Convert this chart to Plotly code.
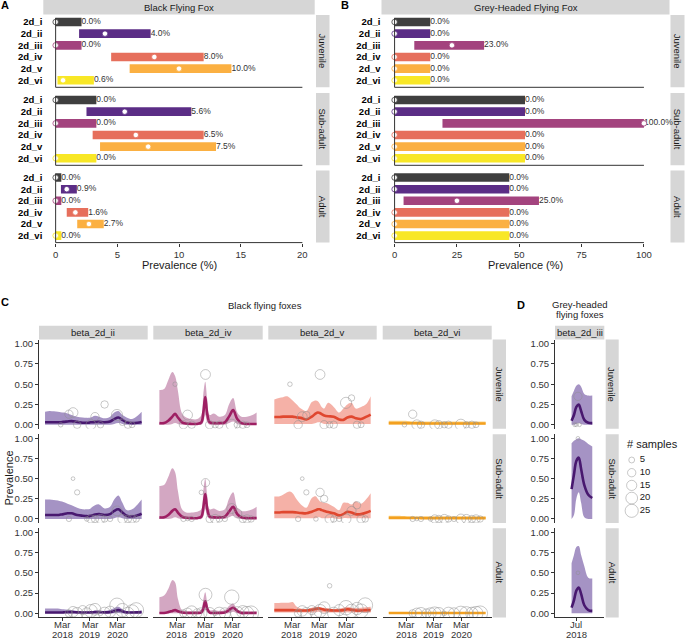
import plotly.graph_objects as go

W, H = 685, 640
FONT = "Liberation Sans, Arial, Helvetica, sans-serif"
TXT = "#1a1a1a"
AX = "#333333"
STRIP = "#d6d6d6"

# ---------------- Panel A / B data (prevalence %, credible interval) ----------------
GENOS = ["2d_i", "2d_ii", "2d_iii", "2d_iv", "2d_v", "2d_vi"]
AGES = ["Juvenile", "Sub-adult", "Adult"]
GENO_COLORS = ["#3f3f3f", "#5b2d86", "#a3437e", "#e66f5c", "#fbb042", "#f8e726"]

BFF_JUV_MEAN = [0.0, 4.0, 0.0, 8.0, 10.0, 0.6]
BFF_JUV_LO = [0.0, 1.9, 0.0, 4.5, 6.0, 0.15]
BFF_JUV_HI = [2.1, 7.7, 2.1, 12.0, 14.25, 3.1]
BFF_SUB_MEAN = [0.0, 5.6, 0.0, 6.5, 7.5, 0.0]
BFF_SUB_LO = [0.0, 2.5, 0.0, 3.0, 3.6, 0.0]
BFF_SUB_HI = [3.3, 11.0, 3.3, 12.0, 13.0, 3.3]
BFF_ADU_MEAN = [0.0, 0.9, 0.0, 1.6, 2.7, 0.0]
BFF_ADU_LO = [0.0, 0.43, 0.0, 0.9, 1.75, 0.0]
BFF_ADU_HI = [0.46, 1.72, 0.46, 2.64, 3.9, 0.46]

GHFF_JUV_MEAN = [0.0, 0.0, 23.0, 0.0, 0.0, 0.0]
GHFF_JUV_LO = [0.0, 0.0, 7.9, 0.0, 0.0, 0.0]
GHFF_JUV_HI = [14.3, 14.3, 35.9, 14.3, 14.3, 14.3]
GHFF_SUB_MEAN = [0.0, 0.0, 100.0, 0.0, 0.0, 0.0]
GHFF_SUB_LO = [0.0, 0.0, 19.2, 0.0, 0.0, 0.0]
GHFF_SUB_HI = [52.3, 52.3, 100.0, 52.3, 52.3, 52.3]
GHFF_ADU_MEAN = [0.0, 0.0, 25.0, 0.0, 0.0, 0.0]
GHFF_ADU_LO = [0.0, 0.0, 3.6, 0.0, 0.0, 0.0]
GHFF_ADU_HI = [46.0, 46.0, 57.9, 46.0, 46.0, 46.0]

A_TICKS = [0, 5, 10, 15, 20]
A_LIMITS = [0, 20]
B_TICKS = [0, 25, 50, 75, 100]
B_LIMITS = [0, 105]

# ---------------- Panel C data (time series, decimal years) ----------------
T = [2017.53, 2017.7, 2017.85, 2018.0, 2018.1, 2018.2, 2018.35, 2018.5, 2018.7, 2018.9,
     2019.05, 2019.12, 2019.19, 2019.26, 2019.35, 2019.5, 2019.7, 2019.9, 2020.05, 2020.2,
     2020.35, 2020.5, 2020.7, 2020.9, 2021.05]

II_JUV_MEAN = [0.03, 0.03, 0.03, 0.03, 0.03, 0.035, 0.04, 0.045, 0.035, 0.025, 0.025, 0.025, 0.03, 0.03, 0.035, 0.035, 0.03, 0.04, 0.07, 0.09, 0.06, 0.03, 0.02, 0.025, 0.035]
II_JUV_HI = [0.16, 0.17, 0.165, 0.16, 0.155, 0.15, 0.14, 0.12, 0.10, 0.09, 0.085, 0.085, 0.09, 0.10, 0.11, 0.10, 0.08, 0.10, 0.15, 0.17, 0.12, 0.09, 0.07, 0.11, 0.16]
II_JUV_LO = [0.0, 0.0, 0.0, 0.0, 0.0, 0.0, 0.0, 0.0, 0.0, 0.0, 0.0, 0.0, 0.0, 0.0, 0.0, 0.0, 0.0, 0.0, 0.01, 0.02, 0.01, 0.0, 0.0, 0.0, 0.0]
II_SUB_MEAN = [0.05, 0.05, 0.05, 0.05, 0.055, 0.06, 0.07, 0.07, 0.05, 0.04, 0.035, 0.035, 0.04, 0.045, 0.055, 0.06, 0.05, 0.06, 0.10, 0.12, 0.08, 0.04, 0.03, 0.045, 0.065]
II_SUB_HI = [0.24, 0.24, 0.235, 0.23, 0.22, 0.21, 0.19, 0.17, 0.14, 0.12, 0.12, 0.12, 0.13, 0.15, 0.17, 0.18, 0.13, 0.15, 0.24, 0.29, 0.20, 0.11, 0.12, 0.18, 0.24]
II_SUB_LO = [0.0, 0.0, 0.0, 0.0, 0.0, 0.0, 0.0, 0.0, 0.0, 0.0, 0.0, 0.0, 0.0, 0.0, 0.0, 0.0, 0.0, 0.0, 0.01, 0.02, 0.01, 0.0, 0.0, 0.0, 0.0]
II_ADU_MEAN = [0.01, 0.01, 0.01, 0.01, 0.01, 0.012, 0.015, 0.015, 0.012, 0.01, 0.01, 0.01, 0.012, 0.012, 0.015, 0.015, 0.012, 0.015, 0.03, 0.04, 0.025, 0.012, 0.01, 0.012, 0.015]
II_ADU_HI = [0.06, 0.06, 0.06, 0.06, 0.055, 0.05, 0.045, 0.04, 0.03, 0.025, 0.025, 0.025, 0.03, 0.03, 0.035, 0.035, 0.03, 0.04, 0.065, 0.08, 0.05, 0.03, 0.025, 0.03, 0.035]
II_ADU_LO = [0.0, 0.0, 0.0, 0.0, 0.0, 0.0, 0.0, 0.0, 0.0, 0.0, 0.0, 0.0, 0.0, 0.0, 0.0, 0.0, 0.0, 0.0, 0.0, 0.005, 0.0, 0.0, 0.0, 0.0, 0.0]

IV_JUV_MEAN = [0.02, 0.02, 0.05, 0.10, 0.135, 0.09, 0.03, 0.015, 0.01, 0.01, 0.03, 0.15, 0.34, 0.14, 0.03, 0.02, 0.02, 0.03, 0.10, 0.18, 0.07, 0.02, 0.01, 0.01, 0.01]
IV_JUV_HI = [0.43, 0.44, 0.55, 0.65, 0.60, 0.42, 0.14, 0.09, 0.07, 0.07, 0.12, 0.38, 0.53, 0.32, 0.12, 0.14, 0.10, 0.12, 0.25, 0.33, 0.15, 0.10, 0.10, 0.12, 0.15]
IV_JUV_LO = [0.0, 0.0, 0.0, 0.01, 0.02, 0.01, 0.0, 0.0, 0.0, 0.0, 0.0, 0.03, 0.12, 0.03, 0.0, 0.0, 0.0, 0.0, 0.02, 0.04, 0.01, 0.0, 0.0, 0.0, 0.0]
IV_SUB_MEAN = [0.02, 0.02, 0.05, 0.10, 0.12, 0.08, 0.03, 0.015, 0.01, 0.01, 0.03, 0.14, 0.31, 0.13, 0.03, 0.02, 0.02, 0.03, 0.09, 0.15, 0.06, 0.02, 0.01, 0.01, 0.01]
IV_SUB_HI = [0.41, 0.42, 0.52, 0.63, 0.58, 0.35, 0.12, 0.08, 0.08, 0.09, 0.12, 0.35, 0.50, 0.30, 0.12, 0.13, 0.10, 0.12, 0.25, 0.33, 0.14, 0.10, 0.10, 0.12, 0.15]
IV_SUB_LO = [0.0, 0.0, 0.0, 0.01, 0.02, 0.01, 0.0, 0.0, 0.0, 0.0, 0.0, 0.03, 0.12, 0.03, 0.0, 0.0, 0.0, 0.0, 0.02, 0.04, 0.01, 0.0, 0.0, 0.0, 0.0]
IV_ADU_MEAN = [0.005, 0.005, 0.015, 0.03, 0.04, 0.025, 0.01, 0.005, 0.005, 0.005, 0.01, 0.06, 0.15, 0.06, 0.01, 0.005, 0.005, 0.01, 0.04, 0.07, 0.03, 0.005, 0.005, 0.005, 0.005]
IV_ADU_HI = [0.20, 0.22, 0.30, 0.41, 0.38, 0.18, 0.04, 0.03, 0.03, 0.03, 0.05, 0.17, 0.26, 0.14, 0.04, 0.04, 0.03, 0.04, 0.09, 0.12, 0.05, 0.03, 0.025, 0.025, 0.03]
IV_ADU_LO = [0.0, 0.0, 0.0, 0.0, 0.0, 0.0, 0.0, 0.0, 0.0, 0.0, 0.0, 0.01, 0.05, 0.01, 0.0, 0.0, 0.0, 0.0, 0.0, 0.02, 0.0, 0.0, 0.0, 0.0, 0.0]

V_JUV_MEAN = [0.095, 0.095, 0.10, 0.10, 0.10, 0.10, 0.09, 0.085, 0.065, 0.10, 0.14, 0.15, 0.145, 0.13, 0.115, 0.105, 0.10, 0.065, 0.06, 0.09, 0.10, 0.08, 0.07, 0.10, 0.125]
V_JUV_HI = [0.31, 0.33, 0.34, 0.35, 0.33, 0.30, 0.25, 0.20, 0.17, 0.28, 0.30, 0.29, 0.26, 0.22, 0.20, 0.27, 0.22, 0.15, 0.20, 0.25, 0.27, 0.20, 0.22, 0.26, 0.35]
V_JUV_LO = [0.01, 0.01, 0.01, 0.01, 0.01, 0.01, 0.01, 0.01, 0.01, 0.01, 0.02, 0.03, 0.03, 0.02, 0.01, 0.01, 0.01, 0.01, 0.01, 0.01, 0.01, 0.01, 0.01, 0.01, 0.01]
V_SUB_MEAN = [0.08, 0.08, 0.085, 0.085, 0.085, 0.085, 0.08, 0.075, 0.07, 0.09, 0.11, 0.12, 0.12, 0.11, 0.10, 0.085, 0.07, 0.045, 0.06, 0.09, 0.08, 0.06, 0.06, 0.08, 0.10]
V_SUB_HI = [0.28, 0.28, 0.30, 0.33, 0.34, 0.32, 0.24, 0.18, 0.14, 0.26, 0.28, 0.25, 0.22, 0.21, 0.20, 0.19, 0.15, 0.11, 0.20, 0.20, 0.18, 0.22, 0.19, 0.25, 0.32]
V_SUB_LO = [0.01, 0.01, 0.01, 0.01, 0.01, 0.01, 0.01, 0.01, 0.01, 0.01, 0.01, 0.02, 0.02, 0.01, 0.01, 0.01, 0.01, 0.0, 0.01, 0.01, 0.01, 0.01, 0.01, 0.01, 0.01]
V_ADU_MEAN = [0.04, 0.04, 0.04, 0.04, 0.04, 0.04, 0.035, 0.035, 0.035, 0.045, 0.055, 0.06, 0.06, 0.055, 0.045, 0.04, 0.035, 0.035, 0.04, 0.05, 0.045, 0.035, 0.035, 0.04, 0.04]
V_ADU_HI = [0.127, 0.127, 0.13, 0.13, 0.135, 0.14, 0.08, 0.06, 0.05, 0.07, 0.08, 0.08, 0.075, 0.07, 0.07, 0.06, 0.055, 0.06, 0.07, 0.08, 0.07, 0.065, 0.07, 0.075, 0.08]
V_ADU_LO = [0.01, 0.01, 0.01, 0.01, 0.01, 0.01, 0.01, 0.01, 0.01, 0.01, 0.015, 0.02, 0.02, 0.015, 0.01, 0.01, 0.01, 0.01, 0.01, 0.015, 0.01, 0.01, 0.01, 0.01, 0.01]

VI_JUV_MEAN = [0.02, 0.02, 0.02, 0.02, 0.02, 0.02, 0.019, 0.018, 0.017, 0.016, 0.016, 0.016, 0.016, 0.016, 0.016, 0.016, 0.016, 0.016, 0.016, 0.016, 0.016, 0.016, 0.016, 0.016, 0.016]
VI_JUV_HI = [0.05, 0.05, 0.05, 0.05, 0.048, 0.046, 0.044, 0.042, 0.04, 0.04, 0.04, 0.04, 0.04, 0.04, 0.04, 0.04, 0.04, 0.04, 0.04, 0.04, 0.04, 0.04, 0.04, 0.04, 0.04]
VI_JUV_LO = [0.002, 0.002, 0.002, 0.002, 0.002, 0.002, 0.002, 0.002, 0.002, 0.002, 0.002, 0.002, 0.002, 0.002, 0.002, 0.002, 0.002, 0.002, 0.002, 0.002, 0.002, 0.002, 0.002, 0.002, 0.002]
VI_SUB_MEAN = [0.013, 0.013, 0.013, 0.013, 0.013, 0.012, 0.012, 0.012, 0.011, 0.011, 0.011, 0.011, 0.011, 0.011, 0.011, 0.011, 0.011, 0.011, 0.011, 0.011, 0.011, 0.011, 0.011, 0.011, 0.011]
VI_SUB_HI = [0.04, 0.04, 0.04, 0.038, 0.036, 0.035, 0.034, 0.032, 0.03, 0.03, 0.03, 0.03, 0.03, 0.03, 0.03, 0.03, 0.03, 0.03, 0.03, 0.03, 0.03, 0.03, 0.03, 0.03, 0.03]
VI_SUB_LO = [0.001, 0.001, 0.001, 0.001, 0.001, 0.001, 0.001, 0.001, 0.001, 0.001, 0.001, 0.001, 0.001, 0.001, 0.001, 0.001, 0.001, 0.001, 0.001, 0.001, 0.001, 0.001, 0.001, 0.001, 0.001]
VI_ADU_MEAN = [0.004, 0.004, 0.004, 0.004, 0.004, 0.004, 0.004, 0.004, 0.004, 0.004, 0.004, 0.004, 0.004, 0.004, 0.004, 0.004, 0.004, 0.004, 0.004, 0.004, 0.004, 0.004, 0.004, 0.004, 0.004]
VI_ADU_HI = [0.014, 0.014, 0.013, 0.013, 0.012, 0.012, 0.011, 0.011, 0.01, 0.01, 0.01, 0.01, 0.01, 0.01, 0.01, 0.01, 0.01, 0.01, 0.01, 0.01, 0.01, 0.01, 0.01, 0.01, 0.01]
VI_ADU_LO = [0.0, 0.0, 0.0, 0.0, 0.0, 0.0, 0.0, 0.0, 0.0, 0.0, 0.0, 0.0, 0.0, 0.0, 0.0, 0.0, 0.0, 0.0, 0.0, 0.0, 0.0, 0.0, 0.0, 0.0, 0.0]

# sampling sessions (decimal year), samples per session by age, observed prevalence
SESS = [2018.1, 2018.4, 2018.55, 2018.7, 2018.9, 2019.05, 2019.2, 2019.35, 2019.55, 2019.7,
        2019.9, 2020.15, 2020.35, 2020.55, 2020.7, 2020.85]
N_JUV = [3, 10, 14, 8, 0, 0, 14, 10, 6, 8, 0, 18, 6, 8, 5, 0]
N_SUB = [0, 4, 2, 4, 0, 3, 10, 8, 12, 6, 4, 14, 12, 8, 10, 6]
N_ADU = [0, 8, 16, 20, 12, 18, 24, 20, 3, 22, 18, 30, 26, 22, 28, 32]

II_JUV_P = [0, 0.13, 0.15, 0, 0, 0, 0, 0.1, 0, 0.25, 0, 0.12, 0.03, 0, 0, 0]
II_SUB_P = [0, 0, 0.5, 0.33, 0, 0, 0, 0, 0, 0, 0, 0.1, 0, 0, 0, 0]
II_ADU_P = [0, 0, 0.02, 0, 0.04, 0, 0.03, 0.05, 0, 0, 0.02, 0.1, 0.04, 0, 0.02, 0.04]
IV_JUV_P = [0.5, 0, 0.12, 0, 0, 0, 0.62, 0, 0, 0, 0, 0, 0, 0, 0, 0]
IV_SUB_P = [0, 0, 0, 0, 0, 0.33, 0.45, 0, 0, 0, 0, 0.13, 0.07, 0, 0, 0]
IV_ADU_P = [0, 0, 0, 0.02, 0, 0, 0.23, 0, 0, 0, 0, 0.2, 0, 0.02, 0, 0]
V_JUV_P = [0.5, 0, 0.1, 0.12, 0, 0, 0.62, 0, 0, 0, 0, 0.27, 0.33, 0, 0, 0]
V_SUB_P = [0, 0, 0.5, 0.33, 0, 0, 0.33, 0.25, 0, 0, 0, 0, 0.1, 0.17, 0, 0]
V_ADU_P = [0, 0, 0.03, 0, 0.04, 0, 0.03, 0.07, 0.34, 0, 0.04, 0.07, 0.03, 0.06, 0.03, 0.1]
VI_JUV_P = [0, 0.13, 0, 0, 0, 0, 0, 0, 0, 0, 0, 0, 0, 0, 0, 0]
VI_SUB_P = [0, 0, 0, 0, 0, 0, 0, 0, 0, 0, 0, 0, 0, 0, 0, 0]
VI_ADU_P = [0, 0, 0, 0, 0, 0, 0, 0, 0, 0, 0, 0, 0, 0, 0, 0]

C_GENOS = ["beta_2d_ii", "beta_2d_iv", "beta_2d_v", "beta_2d_vi"]
C_LINE = ["#48186f", "#9e1f63", "#e0472f", "#f3a01f"]
C_FILL = ["rgba(91,58,147,0.55)", "rgba(158,60,120,0.45)", "rgba(235,100,80,0.5)", "rgba(248,180,50,0.55)"]
C_TICKS = [2018.164, 2019.164, 2020.164]
C_TICK_MONTH = ["Mar", "Mar", "Mar"]
C_TICK_YEAR = ["2018", "2019", "2020"]
Y_TICKS = [0, 0.25, 0.5, 0.75, 1.0]
Y_TICKTEXT = ["0.00", "0.25", "0.50", "0.75", "1.00"]

# ---------------- Panel D data ----------------
D_T = [2018.44, 2018.47, 2018.50, 2018.53, 2018.56, 2018.60, 2018.65, 2018.70]
D_JUV_MEAN = [0.05, 0.12, 0.22, 0.25, 0.17, 0.06, 0.025, 0.02]
D_JUV_HI = [0.35, 0.42, 0.48, 0.50, 0.47, 0.38, 0.36, 0.36]
D_JUV_LO = [0.0, 0.0, 0.01, 0.02, 0.01, 0.0, 0.0, 0.0]
D_SUB_MEAN = [0.37, 0.55, 0.72, 0.76, 0.62, 0.42, 0.30, 0.26]
D_SUB_HI = [0.94, 0.97, 0.99, 1.0, 0.99, 0.97, 0.93, 0.90]
D_SUB_LO = [0.0, 0.05, 0.25, 0.33, 0.20, 0.02, 0.0, 0.0]
D_ADU_MEAN = [0.07, 0.16, 0.28, 0.32, 0.24, 0.10, 0.04, 0.03]
D_ADU_HI = [0.62, 0.72, 0.82, 0.83, 0.72, 0.58, 0.44, 0.43]
D_ADU_LO = [0.0, 0.0, 0.0, 0.0, 0.0, 0.0, 0.0, 0.0]
D_SESS = [2018.48, 2018.50, 2018.52, 2018.54]
D_N_JUV = [2, 2, 10, 2]
D_N_SUB = [0, 0, 2, 0]
D_N_ADU = [0, 0, 2, 0]
D_JUV_P = [0, 0, 0.35, 0]
D_SUB_P = [0, 0, 1.0, 0]
D_ADU_P = [0, 0, 0.5, 0]
D_TICKS = [2018.496]
D_TICK_MONTH = ["Jul"]
D_TICK_YEAR = ["2018"]

LEG_N = [5, 10, 15, 20, 25]
SIZEREF = 0.289

# ---------------- helpers ----------------
fig = go.Figure()
axes = {}
shapes = []
annos = []
counter = [0]


def new_axes(box, xr, yr, xopt=None, yopt=None):
    counter[0] += 1
    s = "" if counter[0] == 1 else str(counter[0])
    x0, x1, y0, y1 = box
    base = dict(showgrid=False, zeroline=False, showline=False, showticklabels=False,
                ticks="", fixedrange=True, automargin=False)
    xa = dict(base, domain=[x0 / W, x1 / W], range=xr, anchor="y" + s)
    ya = dict(base, domain=[1 - y1 / H, 1 - y0 / H], range=yr, anchor="x" + s)
    if xopt:
        xa.update(xopt)
    if yopt:
        ya.update(yopt)
    axes["xaxis" + s] = xa
    axes["yaxis" + s] = ya
    return "x" + s, "y" + s


def strip(x0, x1, y0, y1, text, angle=0, size=9.5):
    shapes.append(dict(type="rect", xref="paper", yref="paper", x0=x0 / W, x1=x1 / W,
                       y0=1 - y1 / H, y1=1 - y0 / H, fillcolor=STRIP, line=dict(width=0),
                       layer="below"))
    annos.append(dict(xref="paper", yref="paper", x=(x0 + x1) / 2 / W, y=1 - (y0 + y1) / 2 / H,
                      text=text, showarrow=False, textangle=angle,
                      font=dict(size=size, color=TXT, family=FONT),
                      xanchor="center", yanchor="middle"))


def label(x, y, text, size=9.5, bold=False, xanchor="center", angle=0, color=TXT):
    annos.append(dict(xref="paper", yref="paper", x=x / W, y=1 - y / H,
                      text=("<b>%s</b>" % text) if bold else text, showarrow=False,
                      textangle=angle, font=dict(size=size, color=color, family=FONT),
                      xanchor=xanchor, yanchor="middle"))


def axis_ticklabels(xa, ticks, lines, y_first, dy, color=AX):
    # tick labels under a time axis, one annotation per text line
    for t, parts in zip(ticks, zip(*lines)):
        for k, txt in enumerate(parts):
            annos.append(dict(xref=xa, yref="paper", x=t, y=1 - (y_first + k * dy) / H,
                              text=txt, showarrow=False,
                              font=dict(size=9.5, color=color, family=FONT),
                              xanchor="center", yanchor="middle"))


TICKFONT = dict(size=9.5, color=AX, family=FONT)

# ---------------- Panels A and B ----------------
BAR_ROWS = [(15.0, 87.3), (93.0, 165.3), (170.6, 242.6)]


def bar_panel(xbox, strip_x, title, ticks, limits, data, title_x):
    span = limits[1] - limits[0]
    xr = [limits[0] - 0.05 * span, limits[1] + 0.05 * span]
    strip(xbox[0], xbox[1], 0, 14.5, title)
    for r, (mean, lo, hi) in enumerate(data):
        y0, y1 = BAR_ROWS[r]
        last = r == len(data) - 1
        xopt = dict(tickvals=ticks, ticktext=[str(t) for t in ticks], showticklabels=last,
                    ticks="outside" if last else "", ticklen=3, tickcolor=AX, tickwidth=1,
                    tickfont=TICKFONT)
        yopt = dict(tickvals=list(range(len(GENOS))),
                    ticktext=["<b>%s</b>" % g for g in GENOS], showticklabels=True,
                    tickfont=dict(size=9.5, color="#000000", family=FONT))
        xa, ya = new_axes((xbox[0], xbox[1], y0, y1), xr, [len(GENOS) - 0.4, -0.6], xopt, yopt)
        idx = list(range(len(GENOS)))
        fig.add_trace(go.Bar(x=[h - l for h, l in zip(hi, lo)], base=lo, y=idx, orientation="h",
                             width=0.74, marker=dict(color=GENO_COLORS, line=dict(width=0)),
                             xaxis=xa, yaxis=ya, showlegend=False, hoverinfo="skip"))
        fig.add_trace(go.Scatter(x=hi, y=idx, mode="text",
                                 text=["%.1f%%" % m for m in mean], textposition="middle right",
                                 textfont=dict(size=8.5, color="#333333", family=FONT),
                                 cliponaxis=False, xaxis=xa, yaxis=ya, showlegend=False,
                                 hoverinfo="skip"))
        fig.add_trace(go.Scatter(x=mean, y=idx, mode="markers",
                                 marker=dict(size=5.5, color="white",
                                             line=dict(color=GENO_COLORS, width=0.8)),
                                 cliponaxis=False, xaxis=xa, yaxis=ya, showlegend=False,
                                 hoverinfo="skip"))
        # capped axis lines (ggplot-style) at the scale limits
        shapes.append(dict(type="line", xref=xa, yref=ya + " domain", x0=ticks[0], x1=ticks[-1],
                           y0=0, y1=0, line=dict(color=AX, width=1)))
        shapes.append(dict(type="line", xref=xa, yref=ya + " domain", x0=ticks[0], x1=ticks[0],
                           y0=0, y1=0.96, line=dict(color=AX, width=1)))
        strip(strip_x[0], strip_x[1], y0, y1, AGES[r], angle=90)
    label(title_x, 265, "Prevalence (%)", size=11)


bar_panel((43.3, 314.7), (316.0, 329.5), "Black Flying Fox", A_TICKS, A_LIMITS,
          [(BFF_JUV_MEAN, BFF_JUV_LO, BFF_JUV_HI), (BFF_SUB_MEAN, BFF_SUB_LO, BFF_SUB_HI),
           (BFF_ADU_MEAN, BFF_ADU_LO, BFF_ADU_HI)], 179)
bar_panel((381.5, 669.5), (670.5, 684.5), "Grey-Headed Flying Fox", B_TICKS, B_LIMITS,
          [(GHFF_JUV_MEAN, GHFF_JUV_LO, GHFF_JUV_HI), (GHFF_SUB_MEAN, GHFF_SUB_LO, GHFF_SUB_HI),
           (GHFF_ADU_MEAN, GHFF_ADU_LO, GHFF_ADU_HI)], 525)

label(5, 5, "A", size=11, bold=True, color="#000")
label(345, 5, "B", size=11, bold=True, color="#000")

# ---------------- Panels C and D ----------------
C_COLS = [(39.0, 147.7), (153.3, 262.7), (268.3, 376.7), (382.7, 491.7)]
C_ROWS = [(339.6, 428.8), (434.3, 523.0), (528.3, 617.4)]
C_XR = [2017.31, 2021.27]
YR = [-0.05, 1.05]

C_SERIES = [
    [(II_JUV_MEAN, II_JUV_LO, II_JUV_HI, II_JUV_P), (II_SUB_MEAN, II_SUB_LO, II_SUB_HI, II_SUB_P),
     (II_ADU_MEAN, II_ADU_LO, II_ADU_HI, II_ADU_P)],
    [(IV_JUV_MEAN, IV_JUV_LO, IV_JUV_HI, IV_JUV_P), (IV_SUB_MEAN, IV_SUB_LO, IV_SUB_HI, IV_SUB_P),
     (IV_ADU_MEAN, IV_ADU_LO, IV_ADU_HI, IV_ADU_P)],
    [(V_JUV_MEAN, V_JUV_LO, V_JUV_HI, V_JUV_P), (V_SUB_MEAN, V_SUB_LO, V_SUB_HI, V_SUB_P),
     (V_ADU_MEAN, V_ADU_LO, V_ADU_HI, V_ADU_P)],
    [(VI_JUV_MEAN, VI_JUV_LO, VI_JUV_HI, VI_JUV_P), (VI_SUB_MEAN, VI_SUB_LO, VI_SUB_HI, VI_SUB_P),
     (VI_ADU_MEAN, VI_ADU_LO, VI_ADU_HI, VI_ADU_P)],
]
C_N = [N_JUV, N_SUB, N_ADU]


def ts_panel(box, xr, t, mean, lo, hi, sess, n, prev, line_c, fill_c, show_y, show_x,
             xticks, month, year):
    xopt = dict(tickvals=xticks, showticklabels=False, showline=show_x,
                linecolor=AX, linewidth=1, ticks="outside" if show_x else "", ticklen=3,
                tickcolor=AX)
    yopt = dict(tickvals=Y_TICKS, ticktext=Y_TICKTEXT, showticklabels=show_y, showline=show_y,
                linecolor=AX, linewidth=1, ticks="outside" if show_y else "", ticklen=3,
                tickcolor=AX, tickfont=TICKFONT)
    xa, ya = new_axes(box, xr, YR, xopt, yopt)
    if show_x:
        axis_ticklabels(xa, xticks, [month, year], box[3] + 7.0, 10.0)
    fig.add_trace(go.Scatter(x=t, y=lo, mode="lines", line=dict(width=0, shape="spline"),
                             xaxis=xa, yaxis=ya, showlegend=False, hoverinfo="skip"))
    fig.add_trace(go.Scatter(x=t, y=hi, mode="lines", line=dict(width=0, shape="spline"),
                             fill="tonexty", fillcolor=fill_c, xaxis=xa, yaxis=ya,
                             showlegend=False, hoverinfo="skip"))
    fig.add_trace(go.Scatter(x=t, y=mean, mode="lines",
                             line=dict(width=2.6, color=line_c, shape="spline"),
                             xaxis=xa, yaxis=ya, showlegend=False, hoverinfo="skip"))
    keep = [i for i in range(len(sess)) if n[i] > 0]
    fig.add_trace(go.Scatter(x=[sess[i] for i in keep], y=[prev[i] for i in keep],
                             mode="markers",
                             marker=dict(symbol="circle-open", size=[n[i] for i in keep],
                                         sizemode="area", sizeref=SIZEREF,
                                         color="#8f8f8f", line=dict(width=0.7)),
                             xaxis=xa, yaxis=ya, showlegend=False, hoverinfo="skip"))


for c, (cx0, cx1) in enumerate(C_COLS):
    strip(cx0, cx1, 325.7, 339.6, C_GENOS[c])
    for r, (ry0, ry1) in enumerate(C_ROWS):
        mean, lo, hi, prev = C_SERIES[c][r]
        ts_panel((cx0, cx1, ry0, ry1), C_XR, T, mean, lo, hi, SESS, C_N[r], prev,
                 C_LINE[c], C_FILL[c], c == 0, r == 2, C_TICKS, C_TICK_MONTH, C_TICK_YEAR)
for r, (ry0, ry1) in enumerate(C_ROWS):
    strip(492.7, 506.0, ry0, ry1, AGES[r], angle=90)

label(265, 305, "Black flying foxes", size=9.5)
label(8, (C_ROWS[0][0] + C_ROWS[2][1]) / 2, "Prevalence", size=11, angle=-90)
label(5, 302, "C", size=11, bold=True, color="#000")

# Panel D
D_X = (555.0, 604.3)
D_XR = [2018.232, 2018.851]
strip(D_X[0], D_X[1], 325.7, 339.6, "beta_2d_iii")
D_SERIES = [(D_JUV_MEAN, D_JUV_LO, D_JUV_HI, D_N_JUV, D_JUV_P),
            (D_SUB_MEAN, D_SUB_LO, D_SUB_HI, D_N_SUB, D_SUB_P),
            (D_ADU_MEAN, D_ADU_LO, D_ADU_HI, D_N_ADU, D_ADU_P)]
for r, (ry0, ry1) in enumerate(C_ROWS):
    mean, lo, hi, n, prev = D_SERIES[r]
    ts_panel((D_X[0], D_X[1], ry0, ry1), D_XR, D_T, mean, lo, hi, D_SESS, n, prev,
             C_LINE[0], C_FILL[0], True, r == 2, D_TICKS, D_TICK_MONTH, D_TICK_YEAR)
    strip(605.7, 618.7, ry0, ry1, AGES[r], angle=90)

label(579.5, 304.7, "Grey-headed", size=9.5)
label(579.5, 314.7, "flying foxes", size=9.5)
label(521, 305, "D", size=11, bold=True, color="#000")

# size legend ("# samples")
LEG_BOX = (620.0, 665.0, 452.0, 518.0)
LEG_X = 11.7
LEG_Y0 = 8.0
LEG_DY = 12.7
lx, ly = new_axes(LEG_BOX, [0, LEG_BOX[1] - LEG_BOX[0]], [LEG_BOX[3] - LEG_BOX[2], 0])
leg_y = [LEG_Y0 + i * LEG_DY for i in range(len(LEG_N))]
fig.add_trace(go.Scatter(x=[LEG_X] * len(LEG_N), y=leg_y, mode="markers",
                         marker=dict(symbol="circle-open", size=LEG_N, sizemode="area",
                                     sizeref=SIZEREF, color="#8f8f8f", line=dict(width=0.7)),
                         xaxis=lx, yaxis=ly, showlegend=False, hoverinfo="skip",
                         cliponaxis=False))
fig.add_trace(go.Scatter(x=[LEG_X + 8] * len(LEG_N), y=leg_y, mode="text",
                         text=[str(v) for v in LEG_N], textposition="middle right",
                         textfont=dict(size=9.5, color=TXT, family=FONT),
                         xaxis=lx, yaxis=ly, showlegend=False, hoverinfo="skip",
                         cliponaxis=False))
label(625, 444, "# samples", size=11, xanchor="left")

fig.update_layout(width=W, height=H, margin=dict(l=0, r=0, t=0, b=0), autosize=False,
                  paper_bgcolor="white", plot_bgcolor="rgba(0,0,0,0)",
                  font=dict(family=FONT, color=TXT), showlegend=False,
                  shapes=shapes, annotations=annos, **axes)

# remove the browser's default page margin so the 685x640 figure fills the window exactly
fig.write_html("out.html", config={"displayModeBar": False},
               post_script="document.body.style.margin='0';document.body.style.overflow='hidden';")
